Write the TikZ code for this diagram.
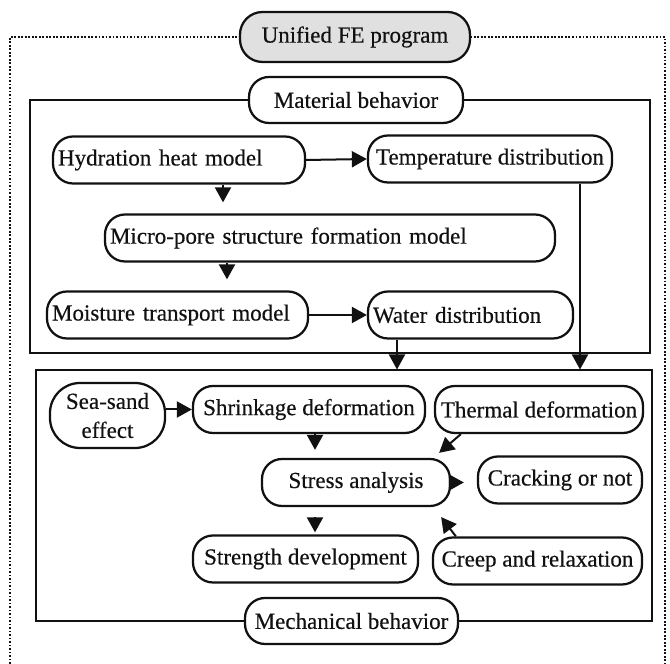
\documentclass[tikz,border=0pt]{standalone}
\usepackage{fontspec}
\setmainfont{Liberation Serif}[FakeBold=0.4]
\usetikzlibrary{arrows.meta}
\definecolor{ink}{HTML}{111111}
\definecolor{shade}{HTML}{E0E0E0}
\tikzset{
  every node/.style={font=\fontsize{13.1}{16.5}\selectfont, text=ink},
  pill/.style={draw=ink, line width=0.45mm, rounded corners=4mm, minimum height=9.4mm,
               inner xsep=1mm, inner ysep=0.5mm, fill=white, align=center},
  lpill/.style={pill, align=left, text width=#1},
  tag/.style={pill, minimum height=9.2mm},
  roottag/.style={tag, fill=shade, minimum height=10mm, rounded corners=4.5mm},
  panel/.style={draw=ink, line width=0.4mm},
  frame/.style={draw=ink, line width=0.35mm, densely dotted},
  arr/.style={-{Triangle[length=3mm, width=3.2mm]}, line width=0.4mm, draw=ink},
}
\begin{document}
\begin{tikzpicture}[x=0.2mm, y=-0.2mm]
\useasboundingbox (0,0) rectangle (670,664);

% --- outer frame and the two panels ---
\draw[frame] (10,664) |- (665,37) -- (665,664);
\node[panel, minimum width=124mm, minimum height=50.6mm] (matbox) at (340,226.5) {};
\node[panel, minimum width=123.2mm, minimum height=50.2mm] (mechbox) at (344,496) {};

% --- titles sitting on the lines ---
\node[roottag, minimum width=46mm] (unified) at (355,37) {Unified FE program};
\node[tag, minimum width=42.8mm] (material) at (356,100) {Material behavior};
\node[tag, minimum width=42.6mm] (mechanical) at (351.5,621) {Mechanical behavior};

% --- material behavior ---
\node[lpill=48.4mm] (hydration) at (179,160) {Hydration heat model};
\node[pill, minimum width=48.8mm] (temperature) at (490,159) {Temperature distribution};
\node[lpill=88mm] (micropore) at (330,238) {Micro-pore structure formation model};
\node[lpill=50.2mm] (moisture) at (177.5,315) {Moisture transport model};
\node[lpill=39mm] (water) at (470.5,315) {Water distribution};

% --- mechanical behavior ---
\node[pill, rounded corners=6mm, minimum width=23mm, minimum height=13mm] (seasand) at (107.5,415.5) {Sea-sand\\effect};
\node[pill, minimum width=46.4mm] (shrinkage) at (309,409.5) {Shrinkage deformation};
\node[pill, minimum width=41.6mm] (thermal) at (539,409.5) {Thermal deformation};
\node[pill, minimum width=37.6mm] (stress) at (356,482.5) {Stress analysis};
\node[pill, minimum width=32.8mm] (cracking) at (560,480) {Cracking or not};
\node[pill, minimum width=45mm] (strength) at (305.5,559) {Strength development};
\node[pill, minimum width=41.8mm] (creep) at (537.5,561) {Creep and relaxation};

% --- arrows inside material behavior ---
\draw[arr] (hydration.east) -- (temperature.west);
\draw[arr, shorten >=2.2mm] ([xshift=8.8mm]hydration.south) -- ([xshift=8.8mm]hydration.south |- micropore.north);
\draw[arr, shorten >=2.2mm] ([xshift=-20.6mm]micropore.south) -- ([xshift=-20.6mm]micropore.south |- moisture.north);
\draw[arr] (moisture.east) -- (water.west);

% --- arrows down into mechanical behavior ---
\draw[arr] ([xshift=-14.7mm]water.south) -- ([xshift=-14.7mm]water.south |- mechbox.north);
\draw[arr] ([xshift=18mm]temperature.south) -- ([xshift=18mm]temperature.south |- mechbox.north);

% --- arrows inside mechanical behavior ---
\draw[arr] (seasand.east |- shrinkage.west) -- (shrinkage.west);
\draw[arr, shorten >=1.6mm] ([xshift=1.2mm]shrinkage.south) -- ([xshift=1.2mm]shrinkage.south |- stress.north);
\draw[arr] ([xshift=5.4mm]thermal.south west) -- ([xshift=-2.4mm, yshift=1mm]stress.north east);
\draw[arr, shorten >=2.6mm] (stress.east) -- (stress.east -| cracking.west);
\draw[arr] ([xshift=4.8mm]creep.north west) -- ([xshift=-2mm, yshift=-2mm]stress.south east);
\draw[arr, shorten <=2mm, shorten >=0.4mm] ([xshift=-8.2mm]stress.south) -- ([xshift=-8.2mm]stress.south |- strength.north);

\end{tikzpicture}
\end{document}
